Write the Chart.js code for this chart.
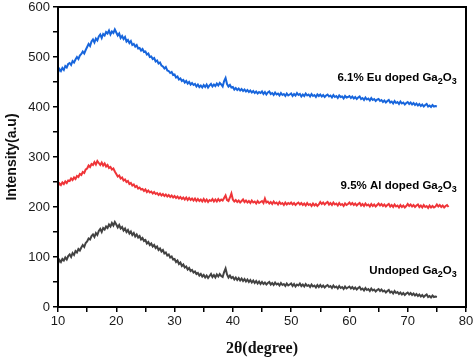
<!DOCTYPE html>
<html>
<head>
<meta charset="utf-8">
<script src="https://cdn.jsdelivr.net/npm/chart.js@4/dist/chart.umd.min.js"></script>
<style>
html,body{margin:0;padding:0;background:#fff;}
#wrap{width:474px;height:359px;position:relative;}
</style>
</head>
<body>
<div id="wrap"><canvas id="c" width="474" height="359"></canvas></div>
<script>
// 2θ sampling grid (degrees)
const angles = [
10,10.25,10.5,10.75,11,11.25,11.5,11.75,12,12.25,12.5,12.75,13,13.25,13.5,13.75,14,14.25,14.5,14.75,
15,15.25,15.5,15.75,16,16.25,16.5,16.75,17,17.25,17.5,17.75,18,18.25,18.5,18.75,19,19.25,19.5,19.75,
20,20.25,20.5,20.75,21,21.25,21.5,21.75,22,22.25,22.5,22.75,23,23.25,23.5,23.75,24,24.25,24.5,24.75,
25,25.25,25.5,25.75,26,26.25,26.5,26.75,27,27.25,27.5,27.75,28,28.25,28.5,28.75,29,29.25,29.5,29.75,
30,30.25,30.5,30.75,31,31.25,31.5,31.75,32,32.25,32.5,32.75,33,33.25,33.5,33.75,34,34.25,34.5,34.75,
35,35.25,35.5,35.75,36,36.25,36.5,36.75,37,37.25,37.5,37.75,38,38.25,38.5,38.75,39,39.25,39.5,39.75,
40,40.25,40.5,40.75,41,41.25,41.5,41.75,42,42.25,42.5,42.75,43,43.25,43.5,43.75,44,44.25,44.5,44.75,
45,45.25,45.5,45.75,46,46.25,46.5,46.75,47,47.25,47.5,47.75,48,48.25,48.5,48.75,49,49.25,49.5,49.75,
50,50.25,50.5,50.75,51,51.25,51.5,51.75,52,52.25,52.5,52.75,53,53.25,53.5,53.75,54,54.25,54.5,54.75,
55,55.25,55.5,55.75,56,56.25,56.5,56.75,57,57.25,57.5,57.75,58,58.25,58.5,58.75,59,59.25,59.5,59.75,
60,60.25,60.5,60.75,61,61.25,61.5,61.75,62,62.25,62.5,62.75,63,63.25,63.5,63.75,64,64.25,64.5,64.75,
65,65.25,65.5,65.75,66,66.25,66.5,66.75,67,67.25,67.5,67.75,68,68.25,68.5,68.75,69,69.25,69.5,69.75,
70,70.25,70.5,70.75,71,71.25,71.5,71.75,72,72.25,72.5,72.75,73,73.25,73.5,73.75,74,74.25,74.5,74.75,
75,75.25,75.5,75.75,76,76.25,76.5,76.75,77];

// Intensity (a.u.)
const euDoped = [
469,476,472,478,474,482,479,486,488,484,492,489,495,500,496,503,506,511,507,514,
520,526,522,531,535,529,537,533,541,545,538,546,543,550,547,553,545,551,548,555,
549,543,547,538,542,536,540,531,534,528,532,524,526,521,524,517,518,513,516,510,
511,505,507,500,501,496,498,491,493,487,489,483,481,477,480,473,472,468,470,464,
465,459,461,455,457,452,454,449,452,447,450,445,448,444,446,441,445,440,443,439,
444,440,445,439,443,446,441,445,442,447,443,448,445,441,452,458,446,441,444,439,
440,435,438,434,437,433,436,432,435,431,434,430,433,429,432,428,431,427,430,428,
431,426,430,425,429,431,426,428,424,429,425,427,423,428,424,426,422,427,423,425,
427,422,426,423,428,424,426,421,425,422,427,423,425,421,426,422,424,420,425,422,
425,421,424,420,423,425,421,423,419,424,420,422,418,423,420,421,417,422,419,420,
422,418,421,417,420,416,419,421,416,418,414,419,415,417,413,418,414,416,412,415,
416,412,414,410,413,409,412,414,409,411,407,412,408,410,406,411,407,409,405,408,
410,406,409,405,408,404,407,403,406,402,405,401,404,406,401,403,400,404,401,402,
401];

const alDoped = [
242,247,244,249,246,251,248,253,252,257,254,259,256,262,260,266,264,270,268,275,
277,283,280,286,284,290,285,292,288,284,289,283,287,281,284,278,280,275,277,271,
266,261,263,257,259,253,255,250,252,246,248,243,245,240,242,237,239,235,236,232,
235,230,233,229,231,227,230,226,228,224,227,223,226,222,225,221,224,220,223,219,
222,218,221,217,220,216,219,215,219,214,218,214,217,213,217,212,216,212,215,211,
216,211,215,210,214,212,216,211,215,211,216,212,215,213,218,223,214,212,219,227,
215,211,214,210,213,209,212,215,210,213,209,212,208,213,209,211,207,212,208,210,
212,208,217,209,211,207,210,206,211,207,209,205,210,206,208,204,209,205,208,206,
209,205,208,204,207,209,205,208,204,207,203,208,204,206,202,207,203,206,202,205,
210,206,209,205,208,210,205,208,204,209,205,207,203,208,204,206,202,207,204,206,
209,205,208,204,207,203,206,208,203,206,202,207,203,205,201,206,202,205,201,204,
207,203,206,202,205,201,204,206,201,204,200,205,201,203,199,204,200,203,199,202,
206,202,205,201,204,200,203,205,200,203,199,204,200,202,198,203,199,202,199,201,
205,201,204,200,203,199,202,204,200];

const undoped = [
87,94,90,96,93,99,95,102,105,100,108,104,112,109,116,113,119,124,120,128,
131,137,135,142,145,140,148,144,152,156,150,158,155,161,158,165,161,168,163,170,
165,159,164,157,160,153,157,150,154,147,151,144,148,141,145,139,142,135,138,132,
134,127,130,124,127,121,124,118,121,114,117,111,114,107,109,103,105,99,101,95,
96,90,93,86,89,82,85,79,81,75,78,72,74,69,71,66,68,63,66,61,
64,59,63,58,62,66,60,64,59,65,61,66,62,60,70,77,65,59,63,58,
60,55,59,54,58,53,57,52,56,51,55,50,54,49,53,48,52,47,51,46,
50,46,49,45,48,50,45,48,44,49,45,47,43,48,44,46,42,47,43,45,
47,42,46,41,45,43,47,42,45,41,46,42,44,40,45,41,43,39,44,40,
44,40,43,39,42,44,40,42,38,43,39,41,37,42,38,40,36,41,37,39,
41,37,40,36,39,35,38,40,35,37,33,38,34,36,32,37,33,35,31,34,
36,32,35,31,33,29,32,34,29,31,27,32,28,30,26,29,25,28,24,27,
29,25,28,24,27,23,26,22,25,21,24,20,23,25,20,22,19,23,20,21,
20];

const seriesNames = ['6.1% Eu doped Ga2O3', '9.5% Al doped Ga2O3', 'Undoped Ga2O3'];
const xTicks = [10,20,30,40,50,60,70,80];
const yTicks = [0,100,200,300,400,500,600];

function pts(vals){ return vals.map((v,i)=>({x:angles[i], y:v})); }

// annotation anchors (data coords, right-aligned, vertically centred)
const notes = [
  {parts:[['6.1% Eu doped Ga',0],['2',1],['O',0],['3',1]], x:78.4, y:460},
  {parts:[['9.5% Al doped Ga',0],['2',1],['O',0],['3',1]], x:78.4, y:244},
  {parts:[['Undoped Ga',0],['2',1],['O',0],['3',1]], x:78.4, y:74}
];

const framePlugin = {
  id:'frame',
  afterDatasetsDraw(chart){
    const {ctx, chartArea:a, scales} = chart;
    ctx.save();
    ctx.strokeStyle='#000'; ctx.lineWidth=2;
    ctx.strokeRect(a.left, a.top, a.right-a.left, a.bottom-a.top);
    ctx.fillStyle='#000';
    ctx.textBaseline='alphabetic';
    const big='bold 11.5px "Liberation Sans", Arial, sans-serif';
    const small='bold 9px "Liberation Sans", Arial, sans-serif';
    notes.forEach(n=>{
      let w=0;
      n.parts.forEach(p=>{ ctx.font=p[1]?small:big; w+=ctx.measureText(p[0]).width; });
      let x = scales.x.getPixelForValue(n.x) - w;
      const yc = scales.y.getPixelForValue(n.y);
      const base = yc + 4;
      n.parts.forEach(p=>{
        ctx.font=p[1]?small:big;
        ctx.fillText(p[0], x, p[1]? base+3 : base);
        x += ctx.measureText(p[0]).width;
      });
    });
    ctx.restore();
  }
};

new Chart(document.getElementById('c'), {
  type:'line',
  data:{
    datasets:[
      {label:seriesNames[0], data:pts(euDoped), borderColor:'#1765dc', borderWidth:2, pointRadius:0, tension:0},
      {label:seriesNames[1], data:pts(alDoped), borderColor:'#ef3438', borderWidth:2, pointRadius:0, tension:0},
      {label:seriesNames[2], data:pts(undoped), borderColor:'#424242', borderWidth:2, pointRadius:0, tension:0}
    ]
  },
  options:{
    responsive:false,
    animation:false,
    layout:{padding:{top:7,right:8,left:0,bottom:0}},
    plugins:{legend:{display:false}, tooltip:{enabled:false}},
    scales:{
      x:{
        type:'linear', min:10, max:80,
        afterFit(s){ s.height=52; s.paddingLeft=0; s.paddingRight=0; },
        ticks:{stepSize:5, autoSkip:false, maxRotation:0, padding:2, color:'#1a1a1a',
          font:{family:'"Liberation Sans", Arial, sans-serif', size:13},
          callback:(v)=> xTicks.includes(v) ? String(v) : ''},
        grid:{drawOnChartArea:false, drawTicks:true, tickLength:5, color:'#000', lineWidth:1.5},
        border:{display:true, color:'#000', width:2},
        title:{display:true, text:'2θ(degree)', color:'#111', padding:{top:0,bottom:1},
          font:{family:'"Liberation Serif", "Times New Roman", serif', size:16, weight:'bold'}}
      },
      y:{
        min:0, max:600,
        afterFit(s){ s.width=58; s.paddingTop=0; s.paddingBottom=0; },
        ticks:{stepSize:50, autoSkip:false, padding:3, color:'#1a1a1a',
          font:{family:'"Liberation Sans", Arial, sans-serif', size:13},
          callback:(v)=> yTicks.includes(v) ? String(v) : ''},
        grid:{drawOnChartArea:false, drawTicks:true, tickLength:5, color:'#000', lineWidth:1.5},
        border:{display:true, color:'#000', width:2},
        title:{display:true, text:'Intensity(a.u)', color:'#111', padding:{top:4,bottom:0},
          font:{family:'"Liberation Sans", Arial, sans-serif', size:14, weight:'bold'}}
      }
    }
  },
  plugins:[framePlugin]
});
</script>
</body>
</html>
